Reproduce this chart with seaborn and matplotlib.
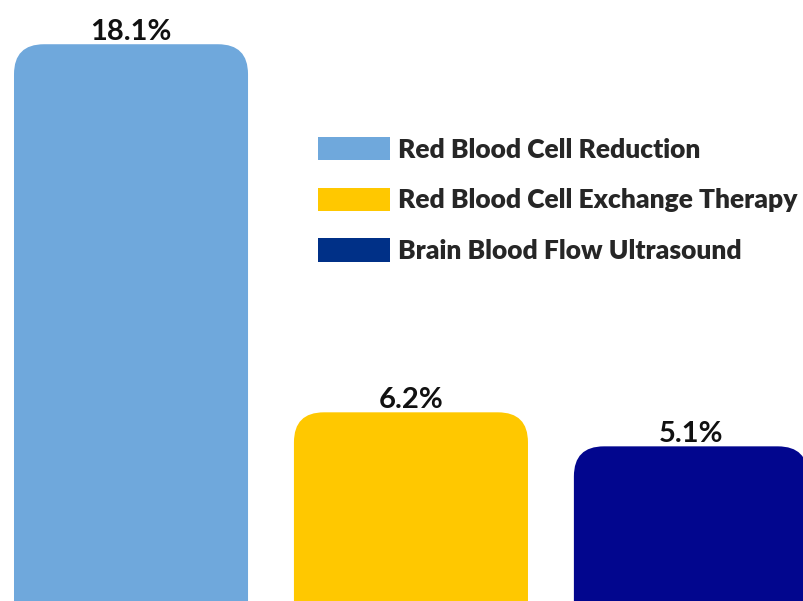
import numpy as np
import pandas as pd
import matplotlib
matplotlib.use("Agg")
import matplotlib.pyplot as plt
import seaborn as sns
from matplotlib.patches import FancyBboxPatch, Patch

categories = ["Red Blood Cell Reduction", "Red Blood Cell Exchange Therapy", "Brain Blood Flow Ultrasound"]
values = [18.1, 6.2, 5.1]
bar_colors = ["#6FA8DC", "#FFC800", "#02068E"]
legend_colors = ["#6FA8DC", "#FFC800", "#003087"]

df = pd.DataFrame({"Treatment": categories, "Percent": values})

sns.set_theme(style="white")
plt.rcParams["font.family"] = ["Lato", "DejaVu Sans"]

fig = plt.figure(figsize=(8.04, 6.01), dpi=100)
ax = fig.add_axes([0, 0, 1, 1])

sns.barplot(data=df, x="Treatment", y="Percent", hue="Treatment",
            palette=bar_colors, saturation=1, width=0.836, legend=False, ax=ax)

ax.set_xlim(-0.468, 2.404)
ax.set_ylim(0.1, 19.53)

# swap plain rectangles for ones with rounded tops
px_x = 804 / (2.404 + 0.468)
px_y = 601 / (19.53 - 0.1)
radius = 30 / px_x
aspect = (30 / px_y) / radius
for p in list(ax.patches):
    x, w, h = p.get_x(), p.get_width(), p.get_height()
    fc = p.get_facecolor()
    p.remove()
    box = FancyBboxPatch((x, -3), w, h + 3,
                         boxstyle=f"round,pad=0,rounding_size={radius}",
                         mutation_aspect=aspect, facecolor=fc, edgecolor="none")
    ax.add_patch(box)

for i, v in enumerate(values):
    ax.annotate(f"{v}%", (i, v), xytext=(0, 3), textcoords="offset points",
                ha="center", va="baseline", fontsize=21, fontweight="bold", color="#111111")

ax.axis("off")

handles = [Patch(facecolor=c, edgecolor="none") for c in legend_colors]
ax.legend(handles, categories, loc="upper left", bbox_to_anchor=(318 / 804, 1 - 137 / 601),
          frameon=False, prop={"weight": "heavy", "size": 19},
          handlelength=2.73, handleheight=0.985, handletextpad=0.3,
          labelspacing=0.98, borderpad=0, borderaxespad=0)

fig.savefig("out.png", dpi=100)
